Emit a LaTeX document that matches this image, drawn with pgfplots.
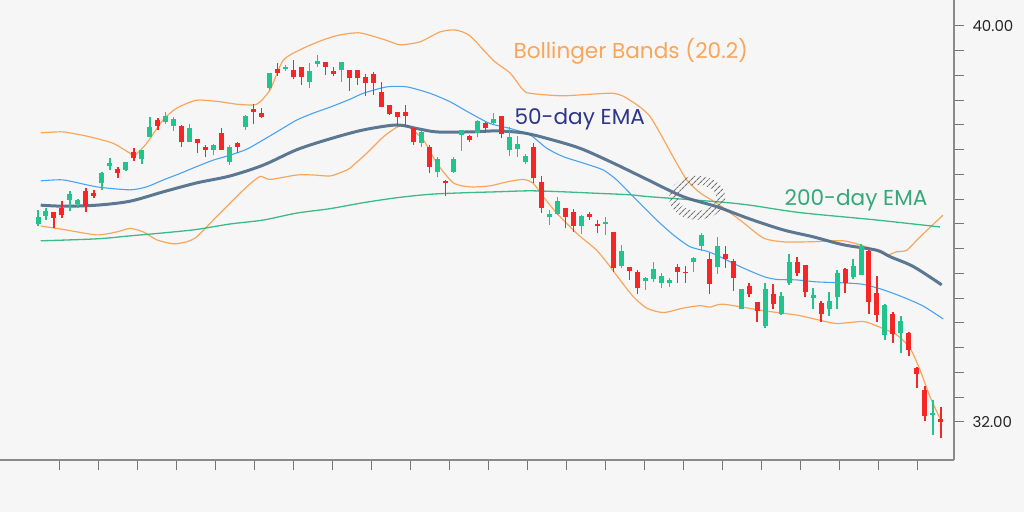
\documentclass[border=0pt]{standalone}
\usepackage{fontspec}
\setmainfont{Poppins}
\usepackage{pgfplots}
\usepackage{pgfplotstable}
\pgfplotsset{compat=1.18}
\usetikzlibrary{patterns.meta}

\definecolor{bg}{HTML}{F6F6F6}
\definecolor{upc}{HTML}{22C48E}
\definecolor{dnc}{HTML}{F42626}
\definecolor{bband}{HTML}{F9A65A}
\definecolor{midc}{HTML}{4AA2F2}
\definecolor{ema50}{HTML}{4B6A88}
\definecolor{ema200}{HTML}{3DBA8A}
\definecolor{axgray}{HTML}{8A8A8A}
\definecolor{navy}{HTML}{2F3689}

% daily candles: open high low close
\pgfplotstableread{
i o h l c
0 35.99 36.28 35.95 36.13
1 36.16 36.33 36.08 36.25
2 36.23 36.23 35.91 36.13
3 36.30 36.46 36.12 36.18
4 36.49 36.67 36.27 36.58
5 36.40 36.51 36.32 36.46
6 36.64 36.73 36.25 36.37
7 36.61 36.69 36.52 36.57
8 36.82 37.06 36.69 37.01
9 37.17 37.34 37.09 37.21
10 37.10 37.16 36.92 37.02
11 37.09 37.25 37.08 37.23
12 37.43 37.53 37.28 37.33
13 37.31 37.50 37.21 37.47
14 37.75 38.16 37.75 37.93
15 38.08 38.14 37.90 37.98
16 38.07 38.26 38.02 38.17
17 37.98 38.16 37.88 38.10
18 37.95 38.00 37.56 37.66
19 37.66 38.01 37.65 37.91
20 37.70 37.72 37.43 37.63
21 37.53 37.60 37.35 37.50
22 37.50 37.61 37.39 37.58
23 37.81 37.93 37.50 37.50
24 37.26 37.60 37.19 37.54
25 37.62 37.66 37.44 37.56
26 37.95 38.20 37.90 38.17
27 38.30 38.42 38.01 38.26
28 38.22 38.34 38.15 38.17
29 38.75 39.06 38.71 39.04
30 39.11 39.25 38.99 39.06
31 39.13 39.21 39.10 39.16
32 39.10 39.31 38.93 38.96
33 39.15 39.18 38.81 38.96
34 38.87 39.25 38.74 39.08
35 39.23 39.41 39.18 39.28
36 39.25 39.28 39.01 39.17
37 39.08 39.18 38.98 39.02
38 39.11 39.26 38.87 39.25
39 39.09 39.11 38.69 38.94
40 39.09 39.11 38.81 38.94
41 38.94 39.04 38.59 38.85
42 39.01 39.08 38.61 38.84
43 38.64 38.87 38.36 38.37
44 38.38 38.40 38.20 38.22
45 38.24 38.27 37.98 38.17
46 38.24 38.40 37.98 38.18
47 37.91 37.91 37.60 37.66
48 37.64 37.88 37.56 37.84
49 37.54 37.60 37.02 37.16
50 37.06 37.35 36.94 37.29
51 36.85 36.89 36.57 36.82
52 37.06 37.36 37.04 37.29
53 37.80 37.90 37.47 37.88
54 37.76 37.80 37.66 37.70
55 37.84 38.10 37.75 38.07
56 38.03 38.07 37.84 37.93
57 38.05 38.25 38.01 38.11
58 38.16 38.18 37.73 37.82
59 37.50 37.95 37.38 37.73
60 37.51 37.78 37.36 37.60
61 37.26 37.41 37.21 37.36
62 37.53 37.63 36.83 36.92
63 36.83 36.96 36.23 36.32
64 36.15 36.28 35.98 36.18
65 36.20 36.54 36.18 36.45
66 36.30 36.32 35.91 36.15
67 36.22 36.30 35.83 35.96
68 35.96 36.18 35.80 36.15
69 36.18 36.25 36.08 36.14
70 35.98 36.08 35.81 35.95
71 36.00 36.15 35.78 36.03
72 35.82 35.84 35.02 35.11
73 35.15 35.58 35.11 35.44
74 35.11 35.14 34.87 35.06
75 35.00 35.07 34.59 34.70
76 34.85 34.92 34.67 34.89
77 34.88 35.24 34.83 35.07
78 34.81 35.00 34.70 34.92
79 34.80 34.90 34.73 34.85
80 35.11 35.19 34.81 35.02
81 35.02 35.15 34.81 35.00
82 35.24 35.34 35.02 35.29
83 35.56 35.81 35.46 35.76
84 35.27 35.41 34.59 34.79
85 35.14 35.74 34.99 35.53
86 35.37 35.56 35.11 35.29
87 35.24 35.29 34.65 34.90
88 34.28 34.67 34.28 34.67
89 34.73 34.81 34.52 34.59
90 34.40 34.43 34.03 34.25
91 33.93 34.80 33.89 34.67
92 34.57 34.79 34.28 34.38
93 34.18 34.63 34.16 34.52
94 34.81 35.39 34.77 35.22
95 35.21 35.34 34.95 35.00
96 35.15 35.17 34.52 34.63
97 34.50 34.71 34.28 34.55
98 34.38 34.45 34.03 34.18
99 34.28 34.63 34.15 34.42
100 34.52 35.08 34.28 34.98
101 35.07 35.11 34.61 34.80
102 34.92 35.29 34.88 35.14
103 34.97 35.60 34.97 35.53
104 35.43 35.47 34.18 34.43
105 34.59 34.95 34.03 34.16
106 33.76 34.38 33.66 34.34
107 34.16 34.23 33.60 33.78
108 33.79 34.14 33.40 34.03
109 33.78 33.82 33.33 33.45
110 33.07 33.12 32.68 32.97
111 32.63 32.73 32.01 32.12
112 32.14 32.44 31.74 32.16
113 32.05 32.31 31.67 31.99
}\candles

\begin{document}
\begin{tikzpicture}
\path[use as bounding box, fill=bg] (0,0) rectangle (1024pt,512pt);
\begin{axis}[
  at={(0pt,52pt)}, anchor=south west,
  width=954pt, height=460pt, scale only axis,
  xmin=-4.756, xmax=114.64,
  ymin=31.232, ymax=40.525,
  axis x line*=bottom, axis y line*=right,
  axis line style={draw=axgray, line width=1.2pt},
  tick align=outside,
  major tick length=10pt,
  major tick style={draw=axgray!85!black, line width=1pt},
  xtick={2.67,7.551,...,110.2},
  xticklabel=\empty,
  ytick={32,32.5,...,40},
  yticklabels={32.00,,,,,,,,,,,,,,,,40.00},
  yticklabel style={font=\fontsize{15}{18}\selectfont, text=black!85, xshift=5pt},
]

% Bollinger upper band
\addplot[bband, line width=1.2pt, smooth, tension=0.4] coordinates {
(0.34,37.84) (3.13,37.86) (6.51,37.76) (9.39,37.63) (11.51,37.43) (12.14,37.39)
(13.60,37.63) (15.64,38.10) (17.36,38.34) (19.86,38.50) (22.78,38.47) (24.87,38.42)
(27.37,38.42) (29.04,38.71) (30.70,39.31) (33.20,39.55) (35.71,39.72) (37.80,39.82)
(40.30,39.86) (43.43,39.72) (45.31,39.62) (47.81,39.68) (50.31,39.88) (52.19,39.92)
(54.07,39.80) (56.95,39.31) (59.07,39.05) (60.70,38.71) (61.58,38.64) (65.71,38.59)
(71.96,38.64) (74.09,38.50) (76.60,38.17) (79.72,37.29) (81.19,36.89) (82.85,36.63)
(84.94,36.42) (87.86,36.08) (90.74,35.72) (93.24,35.64) (96.62,35.64) (100.75,35.66)
(103.25,35.56) (104.97,35.46) (106.22,35.37) (107.47,35.44) (108.72,35.47)
(110.39,35.74) (113.27,36.18)};

% Bollinger lower band
\addplot[bband, line width=1.2pt, smooth, tension=0.4] coordinates {
(0.34,35.96) (3.13,35.89) (7.35,35.78) (9.85,35.84) (11.51,35.91) (13.18,35.84)
(14.86,35.68) (16.93,35.60) (18.61,35.64) (19.86,35.74) (21.94,36.08) (24.03,36.42)
(26.12,36.75) (27.78,36.96) (29.04,36.90) (32.38,36.99) (34.46,36.99) (36.55,36.97)
(38.21,37.06) (39.05,37.13) (41.14,37.43) (43.22,37.76) (45.09,37.97) (46.31,37.97)
(48.22,37.70) (49.90,37.23) (51.98,36.83) (54.07,36.75) (56.57,36.77) (58.66,36.85)
(60.74,36.90) (61.99,36.82) (63.24,36.55) (64.92,36.22) (67.42,35.81) (69.92,35.47)
(71.59,35.14) (72.84,34.87) (74.51,34.53) (76.18,34.30) (78.26,34.21) (80.73,34.30)
(82.85,34.35) (84.11,34.32) (85.73,34.38) (90.74,34.25) (94.96,34.16) (97.46,34.07)
(99.96,33.99) (103.25,34.03) (104.97,33.94) (107.47,33.76) (109.14,33.49)
(110.39,33.05) (111.64,32.51) (112.89,32.07)};

% middle band
\addplot[midc, line width=1.1pt, smooth, tension=0.4] coordinates {
(0.34,36.87) (3.17,36.89) (7.35,36.75) (11.51,36.69) (13.60,36.75) (15.68,36.89)
(17.77,37.02) (19.86,37.16) (21.94,37.29) (24.03,37.39) (26.12,37.51) (28.20,37.70)
(30.29,37.90) (32.38,38.10) (34.46,38.24) (36.55,38.36) (39.05,38.52) (40.71,38.64)
(43.64,38.77) (46.15,38.77) (49.06,38.64) (51.56,38.47) (54.07,38.24) (56.57,38.03)
(59.07,37.93) (61.58,37.80) (63.67,37.53) (65.74,37.36) (68.25,37.23) (70.75,37.09)
(72.43,36.89) (74.09,36.62) (77.43,36.08) (79.51,35.78) (81.60,35.54) (83.69,35.45)
(84.94,35.37) (87.86,35.14) (90.78,34.94) (92.45,34.88) (94.96,34.87) (97.46,34.83)
(100.79,34.81) (103.29,34.78) (105.79,34.67) (108.30,34.52) (110.80,34.34)
(113.30,34.08)};

% 200-day EMA
\addplot[ema200, line width=1.3pt, smooth] coordinates {
(0.34,35.66) (7.35,35.70) (11.51,35.76) (15.68,35.82) (19.86,35.89) (24.03,36.00)
(28.20,36.08) (32.38,36.22) (36.55,36.31) (40.71,36.43) (44.88,36.53) (49.06,36.60)
(53.23,36.63) (57.40,36.65) (61.58,36.67) (65.74,36.65) (69.92,36.62) (74.09,36.59)
(76.60,36.55) (84.94,36.45) (89.11,36.38) (95.37,36.23) (104.97,36.08)
(112.89,35.94)};

% 50-day EMA
\addplot[ema50, opacity=0.9, line width=3pt, smooth] coordinates {
(0.34,36.38) (3.17,36.36) (7.35,36.38) (11.51,36.46) (15.68,36.65) (19.86,36.83)
(24.03,36.97) (28.20,37.19) (32.38,37.50) (36.55,37.72) (40.71,37.90) (44.88,38.00)
(47.38,37.93) (49.89,37.86) (54.07,37.86) (57.40,37.88) (60.74,37.84) (63.67,37.73)
(67.82,37.53) (72.00,37.23) (76.60,36.87) (80.77,36.55) (84.94,36.35) (89.11,36.10)
(93.28,35.88) (97.03,35.74) (100.79,35.58) (104.97,35.47) (106.63,35.34)
(109.55,35.14) (113.10,34.77)};

% crossover marker
\fill[pattern={Lines[angle=45,distance=4pt,line width=1.1pt]}, pattern color=black!55, even odd rule]
  (axis cs:82.5,36.53) ellipse (28pt and 22pt)
  (axis cs:82.5,36.53) ellipse (19pt and 13pt);

% candles: wicks then bodies, up and down
\addplot[draw=none, mark=none, forget plot,
  restrict expr to domain={\thisrow{c}-\thisrow{o}}{0:100},
  error bars/.cd, y dir=plus, y explicit, error mark=none,
  error bar style={draw=upc, line width=1.3pt}]
  table[x=i, y=l, y error expr=\thisrow{h}-\thisrow{l}] {\candles};
\addplot[draw=none, mark=none, forget plot,
  restrict expr to domain={\thisrow{c}-\thisrow{o}}{0:100},
  error bars/.cd, y dir=plus, y explicit, error mark=none,
  error bar style={draw=upc, line width=5pt}]
  table[x=i, y=o, y error expr=\thisrow{c}-\thisrow{o}+0.02] {\candles};
\addplot[draw=none, mark=none, forget plot,
  restrict expr to domain={\thisrow{c}-\thisrow{o}}{-100:-0.001},
  error bars/.cd, y dir=plus, y explicit, error mark=none,
  error bar style={draw=dnc, line width=1.3pt}]
  table[x=i, y=l, y error expr=\thisrow{h}-\thisrow{l}] {\candles};
\addplot[draw=none, mark=none, forget plot,
  restrict expr to domain={\thisrow{c}-\thisrow{o}}{-100:-0.001},
  error bars/.cd, y dir=plus, y explicit, error mark=none,
  error bar style={draw=dnc, line width=5pt}]
  table[x=i, y=c, y error expr=\thisrow{o}-\thisrow{c}+0.02] {\candles};

% labels
\node[anchor=base west, text=bband, font=\fontsize{21.6}{26}\selectfont]
  at (axis cs:59.07,39.35) {Bollinger Bands (20.2)};
\node[anchor=base west, text=navy, font=\fontsize{21.6}{26}\selectfont]
  at (axis cs:59.2,38.00) {50-day EMA};
\node[anchor=base west, text=ema200!90!black, font=\fontsize{21.6}{26}\selectfont]
  at (axis cs:93.0,36.38) {200-day EMA};
\end{axis}
\end{tikzpicture}
\end{document}
